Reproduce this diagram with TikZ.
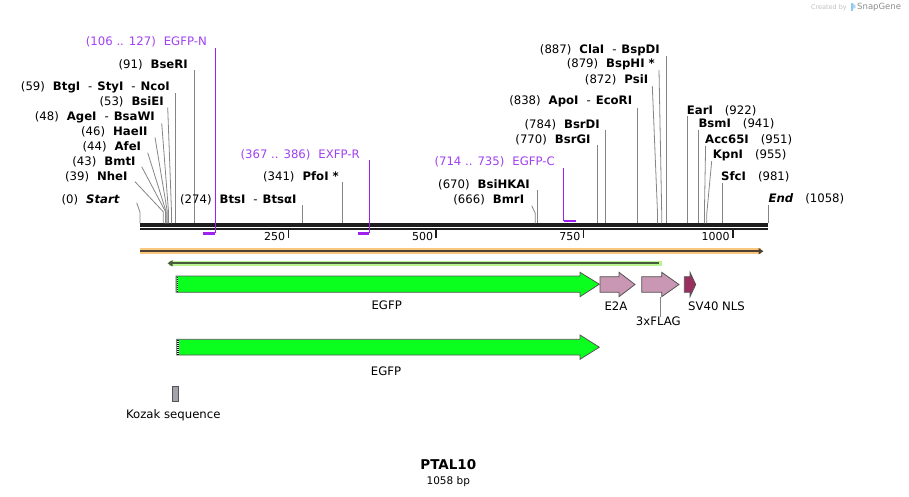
\documentclass[tikz,border=0pt]{standalone}
\usepackage{fontspec}
\setmainfont{DejaVu Sans}
\usetikzlibrary{positioning,arrows.meta,calc}
\definecolor{cutgray}{HTML}{858585}
\definecolor{primer}{HTML}{A020F0}
\definecolor{primertxt}{HTML}{A040F0}
\definecolor{bbblack}{HTML}{1E1E1E}
\definecolor{seqorange}{HTML}{F9C77E}
\definecolor{seqdark}{HTML}{4D4030}
\definecolor{orfgreen}{HTML}{B8F590}
\definecolor{orfdark}{HTML}{4A5A40}
\definecolor{egfpfill}{HTML}{0AFF1E}
\definecolor{tagpink}{HTML}{C996B3}
\definecolor{nlsfill}{HTML}{99305F}
\definecolor{kozakfill}{HTML}{A3A3AD}
\definecolor{featedge}{HTML}{555555}
\definecolor{logoblue}{HTML}{8CC8F0}
\newcommand{\lblfont}{\fontsize{11.7}{14}\selectfont}
\newcommand{\lgap}{\hspace{8pt}}
\newcommand{\rgap}{\hspace{12pt}}
\newcommand{\dsh}{-\hspace{5pt}}

\begin{document}
\begin{tikzpicture}[x=1pt,y=-1pt,
  cutlbl/.style={anchor=east, inner sep=0pt, font=\lblfont},
  cutlblr/.style={anchor=west, inner sep=0pt, font=\lblfont},
  cutline/.style={draw=cutgray, line width=0.8pt},
  primerlbl/.style={anchor=east, inner sep=0pt, font=\lblfont, text=primertxt},
  primerline/.style={draw=primer, line width=1pt},
  primerbar/.style={draw=primer, line width=2.4pt},
  featlbl/.style={inner sep=0pt, font=\lblfont},
  feat/.style={draw=featedge, line width=0.8pt},
  ticklbl/.style={anchor=east, inner sep=0pt, font=\fontsize{11}{13}\selectfont}]
\useasboundingbox (0,0) rectangle (909,497);

% backbone and scale
\draw[bbblack, line width=3.4pt] (140,225) -- (768,225);
\draw[bbblack, line width=2pt] (140,229.2) -- (768,229.2);
\foreach \t/\x in {250/288.4, 500/436.2, 750/583.5, 1000/732.7} {
  \draw[bbblack, line width=1.8pt] (\x,230) -- (\x,237.5);
  \node[ticklbl] at (\x-3,236.5) {\t};
}

% sites on the backbone
\coordinate (c0) at (140,223.3);
\coordinate (c39) at (163.2,223.3);
\coordinate (c43) at (165.5,223.3);
\coordinate (c44) at (166.1,223.3);
\coordinate (c46) at (167.3,223.3);
\coordinate (c48) at (168.5,223.3);
\coordinate (c53) at (171.5,223.3);
\coordinate (c59) at (175.0,223.3);
\coordinate (c91) at (194.0,223.3);
\coordinate (c274) at (302.6,223.3);
\coordinate (c341) at (342.4,223.3);
\coordinate (c666) at (535.3,223.3);
\coordinate (c670) at (537.6,223.3);
\coordinate (c770) at (597.0,223.3);
\coordinate (c784) at (605.3,223.3);
\coordinate (c838) at (637.4,223.3);
\coordinate (c872) at (657.5,223.3);
\coordinate (c879) at (661.7,223.3);
\coordinate (c887) at (666.4,223.3);
\coordinate (c922) at (687.2,223.3);
\coordinate (c941) at (698.5,223.3);
\coordinate (c951) at (704.4,223.3);
\coordinate (c955) at (706.8,223.3);
\coordinate (c981) at (722.2,223.3);
\coordinate (c1058) at (767.9,223.3);

% primer ends
\coordinate (p106) at (202.9,233.3);
\coordinate (p127) at (215.4,233.3);
\coordinate (p367) at (357.8,233.3);
\coordinate (p386) at (369.1,233.3);
\coordinate (p714) at (563.8,220.8);
\coordinate (p735) at (576.2,220.8);

% left cluster
\node[cutlbl] (start) at (120,200) {(0)\lgap\textbf{\textit{Start}}};
\node[cutlbl] (nhe) at (127.7,176.7) {(39)\lgap\textbf{NheI}};
\node[cutlbl] (bmt) at (135.7,162.3) {(43)\lgap\textbf{BmtI}};
\node[cutlbl] (afe) at (141.3,147.3) {(44)\lgap\textbf{AfeI}};
\node[cutlbl] (hae) at (147.7,132.3) {(46)\lgap\textbf{HaeII}};
\node[cutlbl] (age) at (155,117.3) {(48)\lgap\textbf{AgeI}\lgap\dsh\textbf{BsaWI}};
\node[cutlbl] (bsie) at (164,102) {(53)\lgap\textbf{BsiEI}};
\node[cutlbl] (nco) at (170,87.3) {(59)\lgap\textbf{BtgI}\lgap\dsh\textbf{StyI}\lgap\dsh\textbf{NcoI}};
\node[cutlbl] (bse) at (188,64.7) {(91)\lgap\textbf{BseRI}};
\node[primerlbl] (egfpn) at (207,42.3) {(106 .. 127)\lgap EGFP-N};

\draw[cutline] ([shift={(16.7,2.7)}]start.east) -- ($(c0)+(0,-11)$) -- (c0);
\draw[cutline] ([shift={(7.3,5)}]nhe.east) -- ($(c39)+(0,-11.6)$) -- (c39);
\draw[cutline] ([shift={(6,4.4)}]bmt.east) -- ($(c43)+(0,-11.6)$) -- (c43);
\draw[cutline] ([shift={(6.4,5.4)}]afe.east) -- ($(c44)+(0,-11.6)$) -- (c44);
\draw[cutline] ([shift={(7.3,5)}]hae.east) -- ($(c46)+(0,-11.6)$) -- (c46);
\draw[cutline] ([shift={(6.7,6)}]age.east) -- ($(c48)+(0,-11.6)$) -- (c48);
\draw[cutline] ([shift={(3.7,5.3)}]bsie.east) -- ($(c53)+(0,-11.6)$) -- (c53);
\draw[cutline] (c59) -- (c59 |- nco.south);
\draw[cutline] (c91) -- (c91 |- bse.south);
\draw[primerbar] (p106) -- (p127);
\draw[primerline] (p127) -- (p127 |- egfpn.south);

% middle
\node[cutlbl] (bts) at (296.7,200) {(274)\lgap\textbf{BtsI}\lgap\dsh\textbf{BtsαI}};
\node[cutlbl] (pfo) at (339,176.7) {(341)\lgap\textbf{PfoI *}};
\node[primerlbl] (exfpr) at (360,155) {(367 .. 386)\lgap EXFP-R};
\draw[cutline] (c274) -- (c274 |- bts.south);
\draw[cutline] (c341) -- (c341 |- pfo.south);
\draw[primerbar] (p367) -- (p386);
\draw[primerline] (p386) -- (p386 |- exfpr.south);

\node[cutlbl] (bmr) at (524.3,200) {(666)\lgap\textbf{BmrI}};
\node[cutlbl] (bsihk) at (530,185) {(670)\lgap\textbf{BsiHKAI}};
\node[primerlbl] (egfpc) at (555,162.3) {(714 .. 735)\lgap EGFP-C};
\node[cutlbl] (bsrg) at (590.7,140) {(770)\lgap\textbf{BsrGI}};
\node[cutlbl] (bsrd) at (600,125) {(784)\lgap\textbf{BsrDI}};
\node[cutlbl] (eco) at (632.3,101.7) {(838)\lgap\textbf{ApoI}\lgap\dsh\textbf{EcoRI}};
\node[cutlbl] (psi) at (648.3,80) {(872)\lgap\textbf{PsiI}};
\node[cutlbl] (bsph) at (655,64.3) {(879)\lgap\textbf{BspHI *}};
\node[cutlbl] (cla) at (660,50) {(887)\lgap\textbf{ClaI}\lgap\dsh\textbf{BspDI}};
\draw[cutline] ([shift={(7.4,5.7)}]bmr.east) -- ($(c666)+(0,-10)$) -- (c666);
\draw[cutline] (c670) -- (c670 |- bsihk.south);
\draw[primerbar] (p714) -- (p735);
\draw[primerline] (p714) -- (p714 |- egfpc.south);
\draw[cutline] (c770) -- (c770 |- bsrg.south);
\draw[cutline] (c784) -- (c784 |- bsrd.south);
\draw[cutline] (c838) -- (c838 |- eco.south);
\draw[cutline] ([shift={(4,6)}]psi.east) -- ($(c872)+(0,-10.6)$) -- (c872);
\draw[cutline] ([shift={(4,5.7)}]bsph.east) -- ($(c879)+(0,-10.3)$) -- (c879);
\draw[cutline] (c887) -- (c887 |- cla.south);

% right cluster
\node[cutlblr] (ear) at (686.7,110.7) {\textbf{EarI}\rgap(922)};
\node[cutlblr] (bsm) at (698.3,124.3) {\textbf{BsmI}\rgap(941)};
\node[cutlblr] (acc) at (705,140) {\textbf{Acc65I}\rgap(951)};
\node[cutlblr] (kpn) at (712.7,155) {\textbf{KpnI}\rgap(955)};
\node[cutlblr] (sfc) at (721,177.3) {\textbf{SfcI}\rgap(981)};
\node[cutlblr] (endl) at (768.3,199.3) {\textbf{\textit{End}}\rgap(1058)};
\draw[cutline] (c922) -- (c922 |- ear.south);
\draw[cutline] (c941) -- (c941 |- bsm.south);
\draw[cutline] ([shift={(0.6,6)}]acc.west) -- ($(c951)+(0,-10.3)$) -- (c951);
\draw[cutline] ([shift={(-1,6)}]kpn.west) -- ($(c955)+(0,-10)$) -- (c955);
\draw[cutline] (c981) -- (c981 |- sfc.south);
\draw[cutline] (c1058) -- (c1058 |- endl.south);

% sequence and orf bars
\draw[seqorange, line width=5.7pt] (140,251.2) -- (761,251.2);
\draw[seqdark, line width=2pt, -{Triangle[length=5pt,width=6pt]}] (140,251.2) -- (763.5,251.2);
\draw[orfgreen, line width=5pt] (169,263.3) -- (661.7,263.3);
\draw[orfdark, line width=2pt, {Triangle[length=5pt,width=6pt]}-] (167.5,263.3) -- (659,263.3);

% features
\draw[feat, fill=egfpfill] (176,276) -- (580,276) -- (580,272.3) -- (599.3,284.2) -- (580,296.7) -- (580,292.3) -- (176,292.3) -- cycle;
\draw[white, line width=1.6pt] (177.4,276.6) -- (177.4,291.7);
\draw[black, line width=1.6pt, dash pattern=on 1pt off 1pt] (177.4,276.6) -- (177.4,291.7);
\draw[feat, fill=tagpink] (600,276.7) -- (619,276.7) -- (619,272.3) -- (635,284.5) -- (619,296.7) -- (619,292.3) -- (600,292.3) -- cycle;
\draw[feat, fill=tagpink] (641.7,276.7) -- (661.7,276.7) -- (661.7,272.3) -- (679,284.5) -- (661.7,296.7) -- (661.7,292.3) -- (641.7,292.3) -- cycle;
\draw[feat, fill=nlsfill] (684.3,276.7) -- (690,276.7) -- (690,272.3) -- (695.7,284.5) -- (690,296.7) -- (690,292.3) -- (684.3,292.3) -- cycle;
\node[featlbl] (egfp1) at (386.7,305.7) {EGFP};
\node[featlbl] (e2a) at (616,306) {E2A};
\node[featlbl] (flag) at (658.3,321.5) {3xFLAG};
\node[featlbl] (nls) at (716.5,306) {SV40 NLS};
\coordinate (flagb) at (660.3,296.7);
\draw[cutline] (flagb) -- (flagb |- flag.north);

\draw[feat, fill=egfpfill] (176.7,339.3) -- (580,339.3) -- (580,335) -- (599.3,347.2) -- (580,359.3) -- (580,355) -- (176.7,355) -- cycle;
\draw[white, line width=1.6pt] (178.1,339.9) -- (178.1,354.4);
\draw[black, line width=1.6pt, dash pattern=on 1pt off 1pt] (178.1,339.9) -- (178.1,354.4);
\node[featlbl] (egfp2) at (386,371.7) {EGFP};

\draw[feat, fill=kozakfill] (172.3,386.7) rectangle (178.3,401.7);
\node[featlbl] (kozak) at (173.3,415) {Kozak sequence};

% title
\node[inner sep=0pt, font=\fontsize{13.5}{15}\selectfont\bfseries] (title) at (448.3,465) {PTAL10};
\node[inner sep=0pt, font=\fontsize{10.5}{12}\selectfont, below=6pt of title] (size) {1058 bp};

% watermark
\node[inner sep=0pt, anchor=east, text=black!25, font=\fontsize{6.5}{8}\selectfont] (made) at (847,7.5) {Created by};
\fill[logoblue] (850.5,3.5) rectangle (853,11.5);
\fill[logoblue!70] (853,3.5) -- (855.5,5.5) -- (855.5,7.5) -- (853,9) -- cycle;
\node[inner sep=0pt, anchor=west, text=black!45, font=\fontsize{8.5}{10}\selectfont] (sg) at (857,7.5) {SnapGene};
\end{tikzpicture}
\end{document}
